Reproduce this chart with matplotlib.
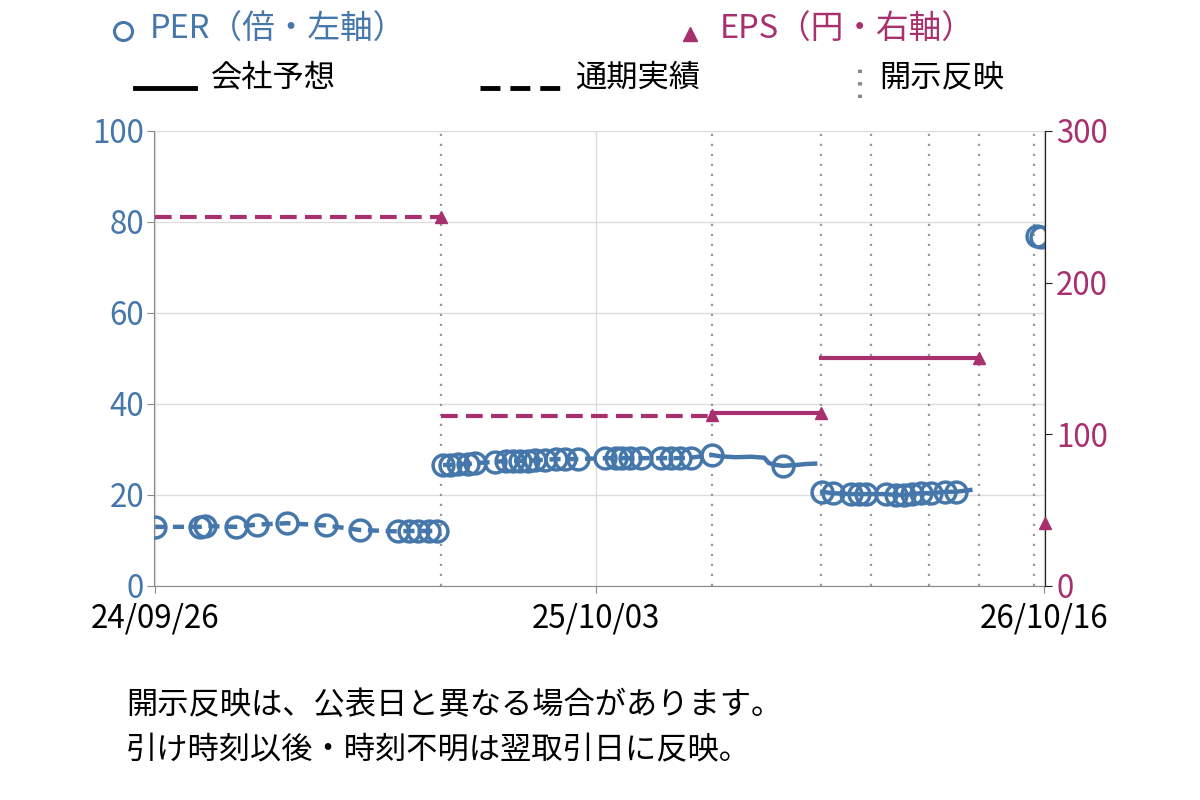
import numpy as np
import pandas as pd
import matplotlib
matplotlib.use('Agg')
import matplotlib.pyplot as plt
import matplotlib.dates as mdates
from matplotlib.lines import Line2D

plt.rcParams['font.family'] = ['Noto Sans CJK JP', 'DejaVu Sans']

BLUE = '#4677ab'
MAGENTA = '#a8306f'
FS = 22.5

# PER markers (倍)
per_mark_dates = ['2024-09-26', '2024-11-03', '2024-11-07', '2024-12-03', '2024-12-21',
                  '2025-01-15', '2025-02-17', '2025-03-18', '2025-04-19', '2025-04-28',
                  '2025-05-06', '2025-05-15', '2025-05-22',
                  '2025-05-27', '2025-06-02', '2025-06-09', '2025-06-17', '2025-06-23',
                  '2025-07-10', '2025-07-19', '2025-07-25', '2025-07-31', '2025-08-07',
                  '2025-08-13', '2025-08-21', '2025-08-30', '2025-09-07', '2025-09-18',
                  '2025-10-11', '2025-10-20', '2025-10-25', '2025-11-01', '2025-11-10',
                  '2025-11-27', '2025-12-05', '2025-12-13', '2025-12-22', '2026-01-09',
                  '2026-03-10',
                  '2026-04-12', '2026-04-21', '2026-05-06', '2026-05-13', '2026-05-19',
                  '2026-06-05', '2026-06-13', '2026-06-20', '2026-06-27', '2026-07-04',
                  '2026-07-13', '2026-07-25', '2026-08-03',
                  '2026-10-10', '2026-10-14']
per_mark_vals = [13.0, 13.0, 13.2, 13.0, 13.5,
                 13.8, 13.3, 12.3, 12.0, 12.1,
                 12.1, 12.1, 12.1,
                 26.6, 26.6, 26.8, 26.8, 27.0,
                 27.3, 27.5, 27.5, 27.5, 27.5,
                 27.7, 27.7, 27.9, 27.9, 27.9,
                 28.1, 28.1, 28.1, 28.1, 28.1,
                 28.1, 28.1, 28.1, 28.2, 28.8,
                 26.4,
                 20.7, 20.4, 20.2, 20.2, 20.2,
                 20.2, 20.0, 20.0, 20.2, 20.4,
                 20.4, 20.7, 20.7,
                 76.9, 76.6]

# PER daily line points between markers (no marker)
per_line_dates = ['2026-01-16', '2026-01-29', '2026-02-11', '2026-02-22', '2026-02-26',
                  '2026-03-04', '2026-03-21', '2026-03-29', '2026-04-06',
                  '2026-08-15']
per_line_vals = [28.5, 28.3, 28.4, 28.2, 27.0,
                 26.6, 26.6, 26.8, 26.9,
                 21.1]

# EPS (円)
eps_dates = ['2024-09-26', '2025-05-25', '2026-01-09', '2026-04-11', '2026-08-22']
eps_vals = [243, 112, 114, 150]
eps_kind = ['実績', '実績', '予想', '予想']
eps_pts_dates = ['2025-05-25', '2026-01-09', '2026-04-11', '2026-08-22', '2026-10-17']
eps_pts_vals = [243, 113, 114, 150, 41.5]

# 開示反映
disc_dates = ['2025-05-25', '2026-01-09', '2026-04-11', '2026-05-23',
              '2026-07-11', '2026-08-22', '2026-10-08']

xtick_dates = ['2024-09-26', '2025-10-03', '2026-10-16']

fig = plt.figure(figsize=(12, 8), dpi=100)
ax = fig.add_axes([0.1283, 0.2675, 0.7425, 0.5688])
ax2 = ax.twinx()

# PER line, broken at each disclosure
pm = pd.Series(per_mark_vals, index=pd.to_datetime(per_mark_dates))
pl = pd.Series(per_line_vals, index=pd.to_datetime(per_line_dates))
per = pd.concat([pm, pl]).sort_index()
t = pd.to_datetime
segs = [
    (per[per.index < t('2025-05-25')], (0, (2.5, 1.5))),
    (per[(per.index > t('2025-05-25')) & (per.index <= t('2026-01-09'))], (0, (2.5, 1.5))),
    (per[(per.index >= t('2026-01-09')) & (per.index < t('2026-04-11'))], '-'),
    (per[(per.index > t('2026-04-11')) & (per.index < t('2026-08-22'))], '-'),
]
for s, ls in segs:
    ax.plot(s.index, s.values, color=BLUE, lw=3.2, ls=ls, zorder=3)
ax.plot(pm.index, pm.values, ls='none', marker='o', ms=15, mfc='none',
        mec=BLUE, mew=2.5, zorder=4)

# EPS steps
ed = pd.to_datetime(eps_dates)
for i, v in enumerate(eps_vals):
    ls = (0, (4, 2)) if eps_kind[i] == '実績' else '-'
    ax2.plot([ed[i], ed[i + 1]], [v, v], color=MAGENTA, lw=3, ls=ls, zorder=3)
ax2.plot(pd.to_datetime(eps_pts_dates), eps_pts_vals, ls='none', marker='^',
         ms=9, color=MAGENTA, clip_on=False, zorder=5)

# disclosure lines
for d in pd.to_datetime(disc_dates):
    ax.axvline(d, color='#999999', lw=1.6, ls=(0, (1, 3.5)), zorder=2)

ax.set_ylim(0, 100)
ax2.set_ylim(0, 300)
ax.set_xlim(pd.Timestamp('2024-09-25'), pd.Timestamp('2026-10-17'))
ax.set_yticks(np.arange(0, 101, 20))
ax2.set_yticks([0, 100, 200, 300])
ax.set_xticks(pd.to_datetime(xtick_dates))
ax.xaxis.set_major_formatter(mdates.DateFormatter('%y/%m/%d'))

ax.grid(True, color='#dddddd', lw=1)
ax.set_axisbelow(True)
ax.spines['top'].set_visible(False)
ax2.spines['top'].set_visible(False)
ax.spines['left'].set_color('#888888')
ax.spines['bottom'].set_color('#888888')
ax2.spines['left'].set_visible(False)
ax2.spines['bottom'].set_visible(False)
ax2.spines['right'].set_color('#222222')
ax.tick_params(axis='y', colors='#888888', labelcolor=BLUE, labelsize=FS, length=5, pad=2)
ax.tick_params(axis='x', colors='#888888', labelcolor='black', labelsize=FS, length=5, pad=7)
ax2.tick_params(axis='y', colors='#222222', labelcolor=MAGENTA, labelsize=FS, length=5, pad=3)

# legend
fig.lines.append(Line2D([0.1025], [0.961], transform=fig.transFigure, marker='o',
                        ms=13, mfc='none', mec=BLUE, mew=2.2, ls='none'))
fig.text(0.125, 0.963, 'PER（倍・左軸）', color=BLUE, fontsize=FS + 1, va='center')
fig.lines.append(Line2D([0.575], [0.958], transform=fig.transFigure, marker='^',
                        ms=10, color=MAGENTA, ls='none'))
fig.text(0.6, 0.963, 'EPS（円・右軸）', color=MAGENTA, fontsize=FS + 1, va='center')

fig.lines.append(Line2D([0.1125, 0.1625], [0.89, 0.89], transform=fig.transFigure,
                        color='black', lw=3.5))
fig.text(0.176, 0.903, '会社予想', fontsize=FS, va='center')
fig.lines.append(Line2D([0.4, 0.4667], [0.89, 0.89], transform=fig.transFigure,
                        color='black', lw=3.5, ls=(0, (4.1, 2.05))))
fig.text(0.479, 0.903, '通期実績', fontsize=FS, va='center')
fig.lines.append(Line2D([0.7167, 0.7167], [0.877, 0.916], transform=fig.transFigure,
                        color='#888888', lw=3, ls=(0, (0.8, 2.2))))
fig.text(0.733, 0.903, '開示反映', fontsize=FS, va='center')

fig.text(0.105, 0.119, '開示反映は、公表日と異なる場合があります。', fontsize=FS, va='center')
fig.text(0.105, 0.062, '引け時刻以後・時刻不明は翌取引日に反映。', fontsize=FS, va='center')

fig.savefig('out.png', dpi=100)
